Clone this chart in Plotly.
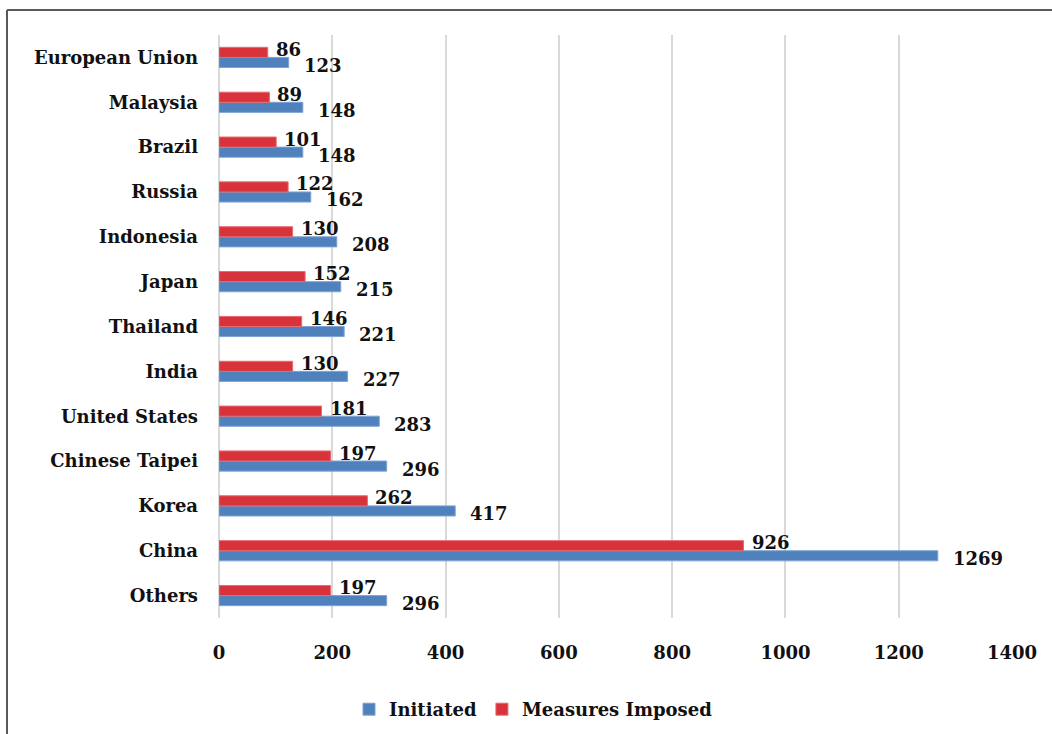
import plotly.graph_objects as go

# Categories listed bottom to top as they appear on the axis
countries = ["Others", "China", "Korea", "Chinese Taipei", "United States", "India",
             "Thailand", "Japan", "Indonesia", "Russia", "Brazil", "Malaysia",
             "European Union"]
initiated = [296, 1269, 417, 296, 283, 227, 221, 215, 208, 162, 148, 148, 123]
imposed = [197, 926, 262, 197, 181, 130, 146, 152, 130, 122, 101, 89, 86]
x_ticks = [0, 200, 400, 600, 800, 1000, 1200, 1400]

BLUE = "#4f81bd"
RED = "#d8323a"
FONT = "DejaVu Serif"

fig = go.Figure()
fig.add_trace(go.Bar(y=countries, x=initiated, orientation="h", name="Initiated",
                     marker=dict(color=BLUE, line=dict(color="#7ea3d3", width=1))))
fig.add_trace(go.Bar(y=countries, x=imposed, orientation="h", name="Measures Imposed",
                     marker=dict(color=RED, line=dict(color="#e86a70", width=1))))

# Value labels next to each bar end
annotations = []
for c, v in zip(countries, imposed):
    annotations.append(dict(x=v, y=c, text=str(v), showarrow=False, xanchor="left",
                            yanchor="middle", xshift=6, yshift=8,
                            font=dict(family=FONT, size=18, color="#111111", weight="bold")))
for c, v in zip(countries, initiated):
    annotations.append(dict(x=v, y=c, text=str(v), showarrow=False, xanchor="left",
                            yanchor="middle", xshift=13, yshift=-8,
                            font=dict(family=FONT, size=18, color="#111111", weight="bold")))

# Frame lines (left and top edges of the chart border)
L, T, B = 219, 35, 618
W, H = 1012 - 219, B - T
bx = (7 - L) / W
by = (B - 10) / H
shapes = [
    dict(type="line", xref="paper", yref="paper", x0=bx, x1=bx, y0=-0.3, y1=by,
         line=dict(color="#5a5a5a", width=2)),
    dict(type="line", xref="paper", yref="paper", x0=bx, x1=1.1, y0=by, y1=by,
         line=dict(color="#5a5a5a", width=2)),
]

fig.update_layout(
    width=1052, height=734,
    margin=dict(l=L, r=1052 - 1012, t=T, b=734 - B, autoexpand=False),
    paper_bgcolor="white", plot_bgcolor="white",
    barmode="group", bargap=0.55, bargroupgap=0,
    font=dict(family=FONT, size=18, color="#111111", weight="bold"),
    showlegend=True,
    legend=dict(orientation="h", x=(349 - L) / W, xanchor="left",
                y=(B - 691) / H, yanchor="top",
                font=dict(family=FONT, size=18, color="#111111", weight="bold"),
                itemwidth=30, traceorder="normal"),
    xaxis=dict(range=[0, 1400], tickvals=x_ticks, showgrid=True, gridcolor="#d9d9d9",
               gridwidth=2, zeroline=True, zerolinecolor="#d9d9d9", zerolinewidth=2,
               showline=False, ticks="", ticklabelstandoff=22, automargin=False,
               tickfont=dict(family=FONT, size=18, color="#111111", weight="bold")),
    yaxis=dict(showgrid=False, showline=False, ticks="", ticklabelstandoff=20,
               automargin=False,
               tickfont=dict(family=FONT, size=18, color="#111111", weight="bold")),
    annotations=annotations,
    shapes=shapes,
)

fig.write_html("out.html")
